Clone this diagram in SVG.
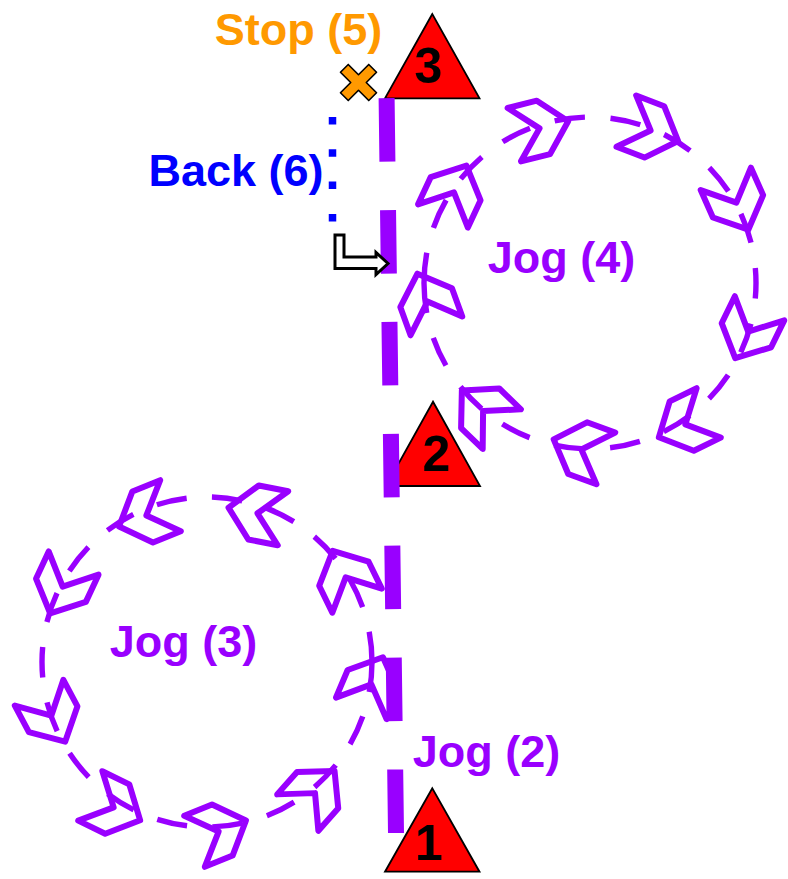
<svg xmlns="http://www.w3.org/2000/svg" xmlns:xlink="http://www.w3.org/1999/xlink" width="788" height="879" viewBox="0 0 788 879">
<defs>
<style>
.chev{fill:none;stroke:#9900FF;stroke-width:6;stroke-linejoin:round}
.ring{fill:none;stroke:#9900FF;stroke-width:5.4}
.tri{fill:#FF0000;stroke:#000;stroke-width:1.8;stroke-linejoin:miter}
.num{font-family:"Liberation Sans",Arial,sans-serif;font-weight:bold;font-size:50px;fill:#000;text-anchor:middle}
.lbl{font-family:"Liberation Sans",Arial,sans-serif;font-weight:bold;font-size:45px;text-anchor:middle}
</style>
<path id="chev" d="M-27.5,-27.5 L2.5,-27.5 L28,0 L2.5,27.5 L-27.5,27.5 L-1.5,0 Z"/>
</defs>
<rect width="788" height="879" fill="#fff"/>

<g id="connectors">
  <g id="jog4-loop">
    <path class="ring" d="M424,283 A166,166 0 0 1 756,283 A166,166 0 0 1 424,283" stroke-dasharray="30.5 25.75"/>
    <g class="chev">
      <use xlink:href="#chev" href="#chev" transform="translate(454.6,191) rotate(-65)"/>
      <use xlink:href="#chev" href="#chev" transform="translate(541,128) rotate(-14)"/>
      <use xlink:href="#chev" href="#chev" transform="translate(652,131) rotate(21)"/>
      <use xlink:href="#chev" href="#chev" transform="translate(737,204) rotate(66)"/>
      <use xlink:href="#chev" href="#chev" transform="translate(747.5,333) rotate(116)"/>
      <use xlink:href="#chev" href="#chev" transform="translate(684,425) rotate(154)"/>
      <use xlink:href="#chev" href="#chev" transform="translate(580,449) rotate(200)"/>
      <use xlink:href="#chev" href="#chev" transform="translate(482,410) rotate(224)"/>
      <use xlink:href="#chev" href="#chev" transform="translate(427,300) rotate(250)"/>
    </g>
  </g>
  <g id="jog3-loop">
    <path class="ring" d="M372,662 A165,165 0 0 0 42,662 A165,165 0 0 0 372,662" stroke-dasharray="30.5 25.4"/>
    <g class="chev">
      <use xlink:href="#chev" href="#chev" transform="translate(145,516) rotate(158)"/>
      <use xlink:href="#chev" href="#chev" transform="translate(256,513) rotate(191)"/>
      <use xlink:href="#chev" href="#chev" transform="translate(345,576) rotate(244)"/>
      <use xlink:href="#chev" href="#chev" transform="translate(372,683) rotate(293)"/>
      <use xlink:href="#chev" href="#chev" transform="translate(316,792) rotate(-48.5)"/>
      <use xlink:href="#chev" href="#chev" transform="translate(220,831) rotate(-22)"/>
      <use xlink:href="#chev" href="#chev" transform="translate(115,808) rotate(26)"/>
      <use xlink:href="#chev" href="#chev" transform="translate(52,717) rotate(62)"/>
      <use xlink:href="#chev" href="#chev" transform="translate(62,588) rotate(115)"/>
    </g>
  </g>
</g>

<g id="node-1">
  <polygon class="tri" points="432.3,788.3 385,871.7 479.5,871.7"/>
  <text class="num" x="429" y="860">1</text>
</g>
<g id="node-2">
  <polygon class="tri" points="433,401.7 386,486 480,486"/>
  <text class="num" x="436.3" y="471">2</text>
</g>
<g id="node-3">
  <polygon class="tri" points="432.3,14 385,98.3 479.5,98.3"/>
  <text class="num" x="428.5" y="83">3</text>
</g>

<g id="connectors-main">
  <path id="jog2-line" d="M396,833 L386.6,98" fill="none" stroke="#9900FF" stroke-width="16" stroke-dasharray="63.5 48.4"/>
  <path id="back-line" d="M332.5,117 L332.5,222" fill="none" stroke="#0000FF" stroke-width="7.5" stroke-dasharray="7.5 24.8"/>
  <path id="turn-arrow" d="M335,235 L344,235 L344,257 L376,257 L376,252.5 L388,263.5 L376,274.5 L376,268.5 L335,268.5 Z" fill="#fff" stroke="#000" stroke-width="3" stroke-linejoin="miter"/>
</g>

<g id="stop-marker">
  <polygon points="-5.5,-20 5.5,-20 5.5,-5.5 20,-5.5 20,5.5 5.5,5.5 5.5,20 -5.5,20 -5.5,5.5 -20,5.5 -20,-5.5 -5.5,-5.5" transform="translate(358.5,82.5) rotate(45)" fill="#FF9900" stroke="#000" stroke-width="1.6" stroke-linejoin="round"/>
</g>

<g id="label-stop"><text class="lbl" x="298.5" y="45" fill="#FF9900">Stop (5)</text></g>
<g id="label-back"><text class="lbl" x="236" y="186" fill="#0000FF">Back (6)</text></g>
<g id="label-jog4"><text class="lbl" x="561.5" y="273" fill="#9900FF">Jog (4)</text></g>
<g id="label-jog3"><text class="lbl" x="183.5" y="657" fill="#9900FF">Jog (3)</text></g>
<g id="label-jog2"><text class="lbl" x="486.5" y="767" fill="#9900FF">Jog (2)</text></g>
</svg>
